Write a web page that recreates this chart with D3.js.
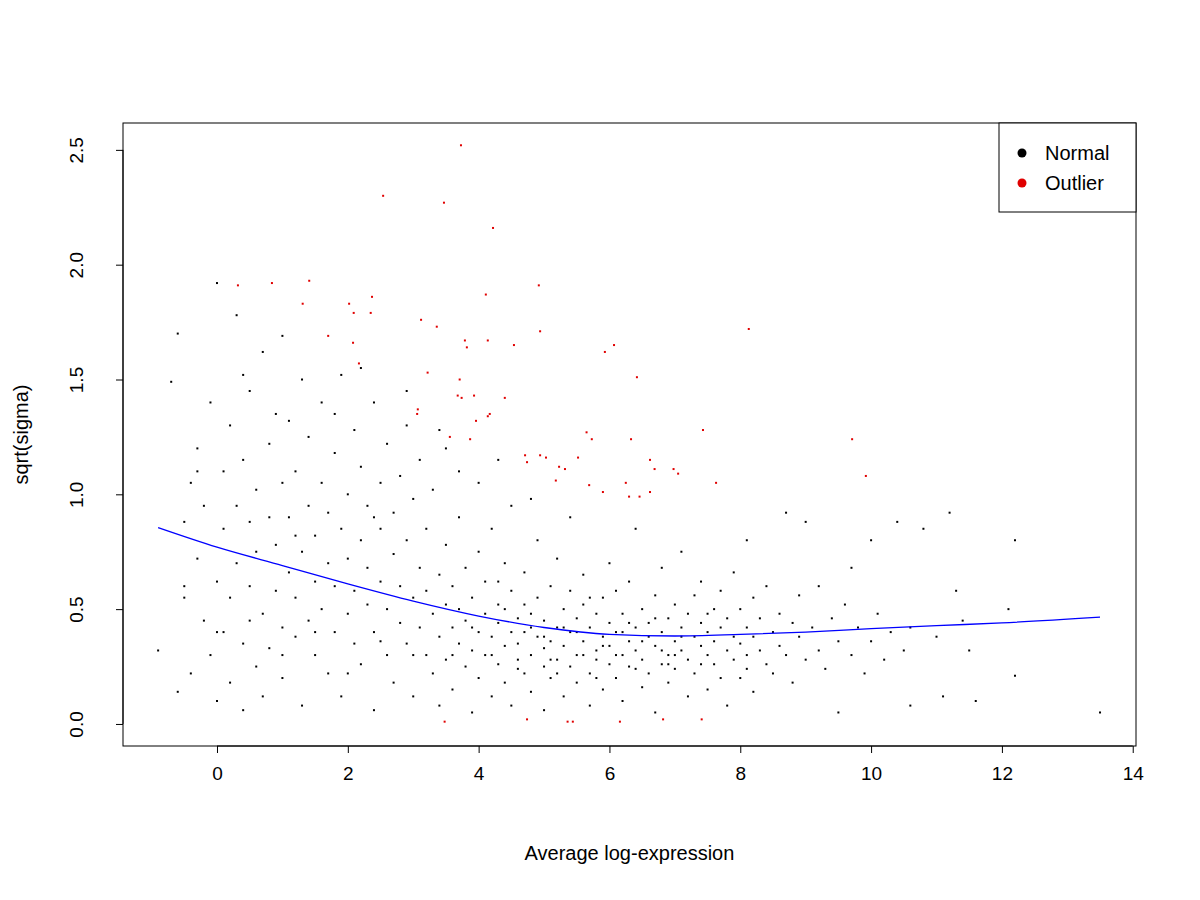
<!DOCTYPE html>
<html>
<head>
<meta charset="utf-8">
<script src="https://cdn.jsdelivr.net/npm/d3@7"></script>
<style>
  body { margin: 0; background: #fff; }
  text { font-family: "Liberation Sans", Arial, sans-serif; }
</style>
</head>
<body>
<svg id="chart" width="1200" height="900"></svg>
<script>
// tick labels
var xTicks = [0, 2, 4, 6, 8, 10, 12, 14];
var yTicks = [0.0, 0.5, 1.0, 1.5, 2.0, 2.5];

// outliers
var outlierX = [3.73,2.54,3.47,4.22,0.32,0.84,1.41,1.31,2.02,2.09,2.35,2.37,2.08,2.17,1.70,3.12,3.36,4.11,4.92,4.94,3.79,3.82,4.54,4.14,3.22,3.71,3.68,3.74,3.93,3.07,3.06,4.40,4.17,4.14,3.87,3.96,3.56,4.74,4.71,4.94,5.03,5.23,5.32,5.52,5.18,5.65,5.73,5.93,6.07,6.42,6.33,6.25,5.69,5.90,6.62,6.69,6.62,6.46,6.30,6.98,7.05,7.43,7.63,8.13,9.71,9.92,3.48,4.74,5.36,5.44,6.16,6.82,7.41];
var outlierY = [2.52,2.30,2.27,2.16,1.91,1.92,1.93,1.83,1.83,1.79,1.79,1.86,1.66,1.57,1.69,1.76,1.73,1.87,1.91,1.71,1.67,1.64,1.65,1.67,1.53,1.50,1.43,1.42,1.43,1.37,1.35,1.42,1.35,1.34,1.24,1.32,1.25,1.14,1.17,1.17,1.16,1.12,1.11,1.16,1.06,1.27,1.24,1.62,1.65,1.51,1.24,1.05,1.04,1.01,1.15,1.11,1.01,0.99,0.99,1.11,1.09,1.28,1.05,1.72,1.24,1.08,0.01,0.02,0.01,0.01,0.01,0.02,0.02];

// a hand-read sample of the normal genes
var normalPoints = [
[-0.9,0.32],[-0.7,1.49],[-0.6,1.70],[-0.6,0.14],[-0.5,0.88],[-0.5,0.55],[-0.4,1.05],[-0.4,0.22],[-0.3,0.72],[-0.3,1.20],
[-0.2,0.45],[-0.2,0.95],[-0.1,0.30],[-0.1,1.40],[0.0,1.92],[0.0,0.62],[0.0,0.10],[0.1,0.85],[0.1,1.10],[0.1,0.40],
[0.2,0.55],[0.2,1.30],[0.2,0.18],[0.3,1.78],[0.3,0.70],[0.3,0.95],[0.4,0.35],[0.4,1.15],[0.4,0.06],[0.5,0.60],
[0.5,0.88],[0.5,1.45],[0.6,0.25],[0.6,0.75],[0.6,1.02],[0.7,0.48],[0.7,1.62],[0.7,0.12],[0.8,0.90],[0.8,0.33],
[0.8,1.22],[0.9,0.58],[0.9,0.78],[1.0,1.69],[1.0,0.42],[1.0,1.05],[1.0,0.20],[1.1,0.66],[1.1,1.32],[1.1,0.90],
[1.2,0.38],[1.2,0.55],[1.2,1.10],[1.3,0.75],[1.3,1.50],[1.3,0.08],[1.4,0.45],[1.4,0.95],[1.4,1.25],[1.5,0.62],
[1.5,0.30],[1.5,0.82],[1.6,1.05],[1.6,0.50],[1.6,1.40],[1.7,0.70],[1.7,0.22],[1.7,0.92],[1.8,0.40],[1.8,1.18],
[1.8,0.60],[1.9,0.85],[1.9,1.52],[1.9,0.12],[2.0,0.48],[2.0,0.72],[2.0,1.00],[2.1,0.35],[2.1,1.28],[2.1,0.58],
[2.2,0.80],[2.2,0.26],[2.2,1.12],[2.3,0.52],[2.3,0.68],[2.3,0.95],[2.4,1.40],[2.4,0.40],[2.4,0.06],[2.5,0.62],
[2.5,0.85],[2.5,1.05],[2.6,0.30],[2.6,0.50],[2.6,1.22],[2.7,0.74],[2.7,0.18],[2.7,0.92],[2.8,0.44],[2.8,1.08],
[2.8,0.60],[2.9,0.35],[2.9,0.80],[2.9,1.30],[3.0,0.55],[3.0,0.12],[3.0,0.98],[3.1,0.42],[3.1,0.68],[3.1,1.15],
[3.2,0.30],[3.2,0.58],[3.2,0.85],[3.3,0.48],[3.3,0.22],[3.3,1.02],[3.4,0.38],[3.4,0.65],[3.4,0.08],[3.5,0.52],
[3.5,0.28],[3.5,0.78],[3.5,1.20],[3.6,0.42],[3.6,0.60],[3.6,0.15],[3.7,0.35],[3.7,0.50],[3.7,0.90],[3.8,0.25],
[3.8,0.45],[3.8,0.68],[3.9,0.32],[3.9,0.55],[3.9,0.05],[4.0,0.40],[4.0,0.20],[4.0,0.75],[4.0,1.05],[4.1,0.30],
[4.1,0.48],[4.1,0.62],[4.2,0.12],[4.2,0.38],[4.2,0.85],[4.3,0.26],[4.3,0.52],[4.3,0.44],[4.4,0.34],[4.4,0.18],
[4.4,0.70],[4.5,0.40],[4.5,0.58],[4.5,0.08],[4.5,0.95],[4.6,0.28],[4.6,0.46],[4.6,0.35],[4.7,0.22],[4.7,0.52],
[4.7,0.66],[4.8,0.30],[4.8,0.42],[4.8,0.14],[4.9,0.38],[4.9,0.55],[4.9,0.80],[5.0,0.25],[5.0,0.45],[5.0,0.33],
[5.0,0.06],[5.1,0.36],[5.1,0.60],[5.1,0.20],[5.2,0.42],[5.2,0.28],[5.2,0.72],[5.3,0.34],[5.3,0.50],[5.3,0.12],
[5.4,0.40],[5.4,0.25],[5.4,0.58],[5.4,0.90],[5.5,0.30],[5.5,0.46],[5.5,0.18],[5.6,0.36],[5.6,0.52],[5.6,0.65],
[5.7,0.22],[5.7,0.42],[5.7,0.08],[5.8,0.32],[5.8,0.48],[5.8,0.28],[5.9,0.38],[5.9,0.55],[5.9,0.15],[6.0,0.26],
[6.0,0.44],[6.0,0.70],[6.0,0.34],[6.1,0.40],[6.1,0.20],[6.1,0.58],[6.2,0.30],[6.2,0.48],[6.2,0.10],[6.3,0.36],
[6.3,0.25],[6.3,0.62],[6.4,0.42],[6.4,0.32],[6.4,0.85],[6.5,0.28],[6.5,0.50],[6.5,0.16],[6.6,0.38],[6.6,0.44],
[6.6,0.22],[6.7,0.34],[6.7,0.56],[6.7,0.05],[6.8,0.40],[6.8,0.26],[6.8,0.68],[6.9,0.30],[6.9,0.46],[6.9,0.18],
[7.0,0.36],[7.0,0.52],[7.0,0.24],[7.1,0.42],[7.1,0.32],[7.1,0.75],[7.2,0.28],[7.2,0.48],[7.2,0.12],[7.3,0.38],
[7.3,0.56],[7.3,0.22],[7.4,0.34],[7.4,0.44],[7.4,0.62],[7.5,0.30],[7.5,0.40],[7.5,0.15],[7.6,0.50],[7.6,0.26],
[7.6,0.36],[7.7,0.42],[7.7,0.20],[7.7,0.58],[7.8,0.32],[7.8,0.46],[7.8,0.08],[7.9,0.38],[7.9,0.28],[7.9,0.66],
[8.0,0.35],[8.0,0.50],[8.0,0.20],[8.1,0.42],[8.1,0.30],[8.1,0.80],[8.2,0.38],[8.2,0.55],[8.2,0.14],[8.3,0.32],
[8.3,0.46],[8.4,0.26],[8.4,0.60],[8.5,0.40],[8.5,0.22],[8.6,0.48],[8.6,0.34],[8.7,0.30],[8.7,0.92],[8.8,0.44],
[8.8,0.18],[8.9,0.38],[8.9,0.56],[9.0,0.28],[9.0,0.88],[9.1,0.42],[9.2,0.32],[9.2,0.60],[9.3,0.24],[9.4,0.46],
[9.5,0.36],[9.5,0.05],[9.6,0.52],[9.7,0.30],[9.7,0.68],[9.8,0.42],[9.9,0.22],[10.0,0.80],[10.0,0.36],[10.1,0.48],
[10.2,0.28],[10.3,0.40],[10.4,0.88],[10.5,0.32],[10.6,0.42],[10.6,0.08],[10.8,0.85],[11.0,0.38],[11.1,0.12],[11.2,0.92],
[11.3,0.58],[11.4,0.45],[11.5,0.32],[11.6,0.10],[12.1,0.50],[12.2,0.80],[12.2,0.21],[13.5,0.05],
[4.2,0.30],[4.6,0.24],[5.0,0.38],[5.3,0.42],[5.6,0.30],[5.9,0.34],[6.2,0.40],[6.5,0.36],[6.8,0.32],[7.1,0.38],
[7.4,0.26],[4.4,0.50],[4.8,0.48],[5.2,0.22],[5.5,0.40],[5.8,0.20],[6.1,0.30],[6.4,0.24],[6.7,0.46],[7.0,0.30],
[3.6,0.30],[3.9,0.42],[4.3,0.62],[4.7,0.40],[5.1,0.28],[5.7,0.55],[6.3,0.44],[6.9,0.26],[7.5,0.48],[8.1,0.24],
[1.0,0.30],[1.5,0.40],[2.0,0.22],[2.5,0.36],[3.0,0.30],[0.5,0.45],[0.0,0.40],[-0.5,0.60],[1.2,0.82],[2.4,0.90],
[3.4,1.28],[2.9,1.45],[1.8,1.35],[0.9,1.35],[0.4,1.52],[-0.3,1.10],[2.2,1.55],[3.7,1.10],[4.3,1.15],[4.8,0.98]
];

// fitted trend, read at intervals
var trendX = [-0.9, 0, 1, 2, 3, 4, 5, 6, 7, 8, 9, 10, 11, 12, 13.5];
var trendY = [0.855, 0.77, 0.69, 0.61, 0.535, 0.47, 0.42, 0.39, 0.383, 0.39, 0.40, 0.415, 0.428, 0.44, 0.465];

var svg = d3.select('#chart');
var plotL = 123, plotR = 1136, plotT = 123, plotB = 746;

var x = d3.scaleLinear().domain([-1.437, 14.05]).range([plotL, plotR]);
var y = d3.scaleLinear().domain([-0.096, 2.617]).range([plotB, plotT]);

svg.append('rect')
  .attr('x', plotL).attr('y', plotT)
  .attr('width', plotR - plotL).attr('height', plotB - plotT)
  .attr('fill', 'none').attr('stroke', '#000');

var xAxis = svg.append('g')
  .attr('transform', 'translate(0,' + plotB + ')')
  .call(d3.axisBottom(x).tickValues(xTicks).tickSize(7).tickPadding(14));
xAxis.selectAll('text').style('font-size', '19px').attr('fill', '#000');

var yAxis = svg.append('g')
  .attr('transform', 'translate(' + plotL + ',0)')
  .call(d3.axisLeft(y).tickValues(yTicks).tickSize(7).tickFormat(d3.format('.1f')));
yAxis.selectAll('text')
  .style('font-size', '19px').attr('fill', '#000')
  .attr('text-anchor', 'middle')
  .attr('x', 0).attr('dy', 0)
  .attr('transform', 'translate(-40,0) rotate(-90)');
svg.selectAll('.domain').remove();
// R draws the axis line only between first and last tick
svg.append('line').attr('x1', x(0)).attr('x2', x(14)).attr('y1', plotB).attr('y2', plotB).attr('stroke', '#000');
svg.append('line').attr('x1', plotL).attr('x2', plotL).attr('y1', y(0)).attr('y2', y(2.5)).attr('stroke', '#000');

svg.append('text').attr('x', (plotL + plotR) / 2).attr('y', 860)
  .attr('text-anchor', 'middle').style('font-size', '20px').text('Average log-expression');
svg.append('text').attr('transform', 'translate(28,' + ((plotT + plotB) / 2) + ') rotate(-90)')
  .attr('text-anchor', 'middle').style('font-size', '20px').text('sqrt(sigma)');

svg.append('g').selectAll('rect').data(normalPoints).enter().append('rect')
  .attr('x', function(d) { return x(d[0]) - 1; })
  .attr('y', function(d) { return y(d[1]) - 1; })
  .attr('width', 2).attr('height', 2).attr('fill', '#000');

svg.append('g').selectAll('rect').data(outlierX).enter().append('rect')
  .attr('x', function(d) { return x(d) - 1; })
  .attr('y', function(d, i) { return y(outlierY[i]) - 1; })
  .attr('width', 2).attr('height', 2).attr('fill', '#e00000');

var line = d3.line()
  .x(function(d) { return x(d); })
  .y(function(d, i) { return y(trendY[i]); })
  .curve(d3.curveMonotoneX);
svg.append('path').attr('d', line(trendX))
  .attr('fill', 'none').attr('stroke', '#0000ff').attr('stroke-width', 1.3);

// legend
var lg = svg.append('g');
lg.append('rect').attr('x', 999).attr('y', plotT).attr('width', plotR - 999).attr('height', 89)
  .attr('fill', '#fff').attr('stroke', '#000');
[['Normal', '#000'], ['Outlier', '#e00000']].forEach(function(e, i) {
  lg.append('circle').attr('cx', 1022).attr('cy', 153 + i * 30).attr('r', 4.5).attr('fill', e[1]);
  lg.append('text').attr('x', 1045).attr('y', 153 + i * 30).attr('dy', '0.35em')
    .style('font-size', '20px').text(e[0]);
});
</script>
</body>
</html>
